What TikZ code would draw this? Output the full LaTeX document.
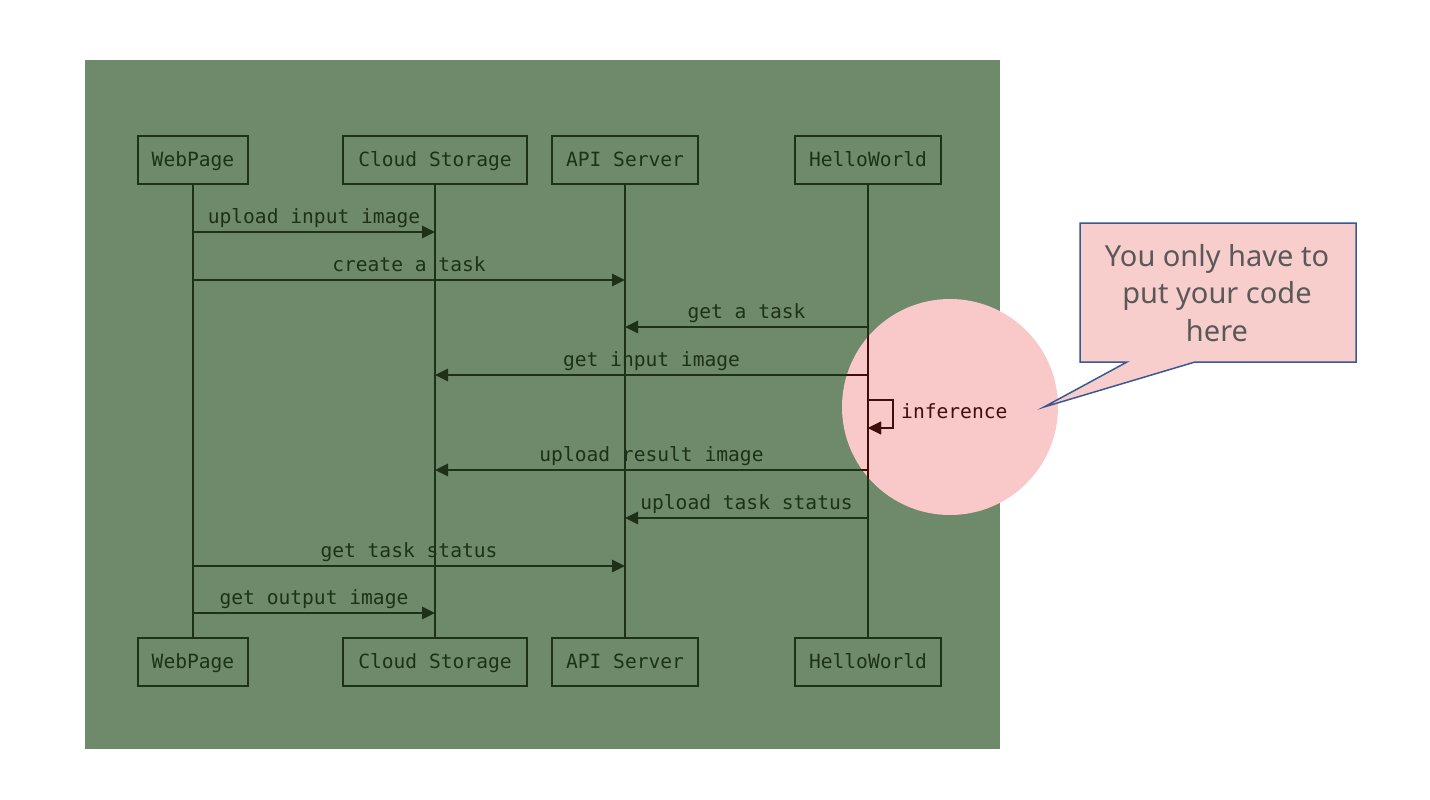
\documentclass[tikz,border=0pt]{standalone}
\usepackage{fontspec}
\setmainfont{Noto Sans}
\newfontfamily\monof{DejaVu Sans Mono}
\usetikzlibrary{arrows.meta,calc}
\definecolor{bg}{HTML}{6F8A6A}
\definecolor{ln}{HTML}{1C3117}
\definecolor{mar}{HTML}{410C0C}
\definecolor{pinkc}{HTML}{F8C9C8}
\definecolor{callfill}{HTML}{F8CECC}
\definecolor{callb}{HTML}{3A5894}
\definecolor{txtg}{HTML}{595959}
\newcommand{\alllines}[1]{%
  \begin{scope}[draw=#1,text=#1]
  \draw[life] (wpT) -- (wpB);
  \draw[life] (csT) -- (csB);
  \draw[life] (apT) -- (apB);
  \draw[life] (hwT) -- (hwB);
  \draw[msgline] (wpT |- 0,232) -- node[lab]{upload input image} (csT |- 0,232);
  \draw[msgline] (wpT |- 0,280) -- node[lab]{create a task} (apT |- 0,280);
  \draw[msgline] (hwT |- 0,327) -- node[lab]{get a task} (apT |- 0,327);
  \draw[msgline] (hwT |- 0,375) -- node[lab]{get input image} (csT |- 0,375);
  \draw[msgline] (hwT |- 0,400) -- ++(25,0) -- ++(0,28) -- ++(-25,0);
  \draw[msgline] (hwT |- 0,470) -- node[lab]{upload result image} (csT |- 0,470);
  \draw[msgline] (hwT |- 0,518) -- node[lab]{upload task status} (apT |- 0,518);
  \draw[msgline] (wpT |- 0,566) -- node[lab]{get task status} (apT |- 0,566);
  \draw[msgline] (wpT |- 0,613) -- node[lab]{get output image} (csT |- 0,613);
  \end{scope}}
\begin{document}
\begin{tikzpicture}[x=1pt,y=-1pt,
  mfont/.style={font=\monof\fontsize{19.6}{22}\selectfont},
  actor/.style={draw=ln,line width=2.6pt,minimum height=48pt,inner sep=0pt,
    mfont,text=ln,text height=14pt,text depth=2pt},
  life/.style={line width=2.6pt},
  msgline/.style={line width=2.6pt,-{Triangle[length=13pt,width=12pt]}},
  lab/.style={above,inner sep=3pt,mfont,text height=14pt,text depth=4.6pt}]
\useasboundingbox (0,0) rectangle (1430,800);
\fill[white] (0,0) rectangle (1430,800);
\fill[bg] (85,60) rectangle (1000,749);
\fill[pinkc] (950,407) circle[radius=108];
% actors
\node[actor,minimum width=110pt] (wpT) at (193,160) {WebPage};
\node[actor,minimum width=184pt] (csT) at (435,160) {Cloud Storage};
\node[actor,minimum width=146pt] (apT) at (625,160) {API Server};
\node[actor,minimum width=146pt] (hwT) at (868,160) {HelloWorld};
\node[actor,minimum width=110pt] (wpB) at (193,662) {WebPage};
\node[actor,minimum width=184pt] (csB) at (435,662) {Cloud Storage};
\node[actor,minimum width=146pt] (apB) at (625,662) {API Server};
\node[actor,minimum width=146pt] (hwB) at (868,662) {HelloWorld};
\alllines{ln}
\begin{scope}
  \clip (950,407) circle[radius=108];
  \alllines{mar}
\end{scope}
\node[anchor=west,inner sep=0pt,text=mar,mfont] (inf) at (901,411) {inference};
% callout
\draw[callb,fill=callfill,line width=1.5pt,line join=miter]
  (1080,223) -- (1356,223) -- (1356,362) -- (1195,362) -- (1044,407) -- (1127,362) -- (1080,362) -- cycle;
\node[align=center,text=txtg,font=\fontsize{29}{37.5}\selectfont] (note) at (1217,293)
  {You only have to\\put your code\\here};
\end{tikzpicture}
\end{document}
